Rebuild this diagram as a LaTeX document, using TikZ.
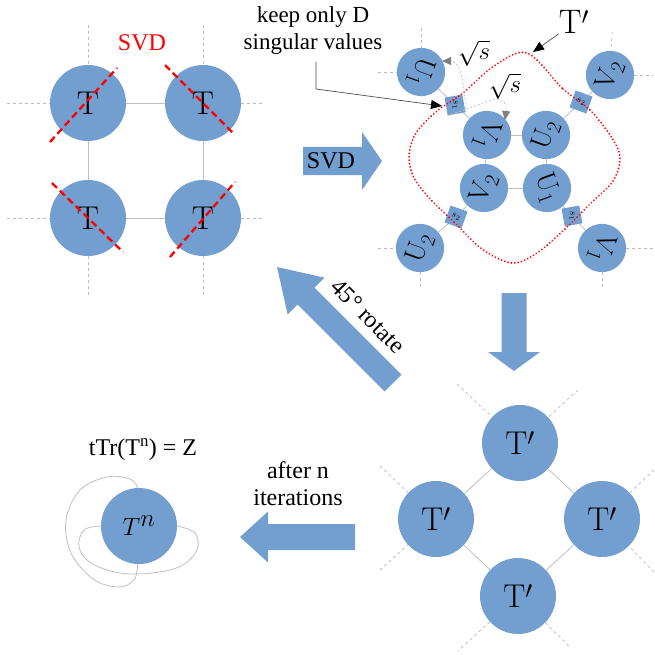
\documentclass[tikz,border=0pt]{standalone}
\usepackage{fontspec}
\newfontfamily\lser{Liberation Serif}
\usetikzlibrary{arrows.meta}
\definecolor{tblue}{HTML}{729FCF}
\newcommand\blockarr[7]{% x, y, angle, length, head length, head width, body width
  \begin{scope}[shift={(#1,#2)},rotate=#3]
    \fill[tblue] (0,-#7/2) -- (#4-#5,-#7/2) -- (#4-#5,-#6/2) -- (#4,0) -- (#4-#5,#6/2) -- (#4-#5,#7/2) -- (0,#7/2) -- cycle;
  \end{scope}}
\tikzset{
  big/.style={circle,fill=tblue,minimum size=76pt,inner sep=0pt,font=\fontsize{33}{33}\selectfont},
  small/.style={circle,fill=tblue,minimum size=39pt,inner sep=0pt,font=\fontsize{28}{28}\selectfont},
  sq/.style={rectangle,fill=tblue,minimum size=18pt,inner sep=0pt,font=\fontsize{10}{10}\selectfont},
  bond/.style={draw=gray!50,line width=0.8pt},
  leg/.style={draw=gray!55,line width=0.7pt,dash pattern=on 3pt off 3pt},
  cut/.style={draw=red,line width=2.3pt,dash pattern=on 7pt off 4pt},
  region/.style={draw=red,line width=2pt,line cap=round,dash pattern=on 0.01pt off 3.4pt},
  lbl/.style={font=\lser\fontsize{24}{27}\selectfont,align=center,inner sep=0pt},
  ptr/.style={draw=gray!60!black,line width=0.7pt,-{Triangle[length=11pt,width=9pt,color=black]}},
  sqarr/.style={draw=gray!45,line width=0.8pt,dash pattern=on 2pt off 2pt,-{Triangle[length=9pt,width=8pt,color=gray]}}
}
\begin{document}
\begin{tikzpicture}[x=1pt,y=-1pt]
\useasboundingbox (0,0) rectangle (654,655);

% ---------------- top-left: 2x2 network of T ----------------
\node[big] (t11) at (88,103) {$\mathrm{T}$};
\node[big] (t12) at (203,103) {$\mathrm{T}$};
\node[big] (t21) at (88,218) {$\mathrm{T}$};
\node[big] (t22) at (203,218) {$\mathrm{T}$};
\coordinate (l1) at (7,103);  \coordinate (r1) at (264,103);
\coordinate (l2) at (7,218);  \coordinate (r2) at (264,218);
\coordinate (u1) at (88,25);  \coordinate (u2) at (203,25);
\coordinate (d1) at (88,297); \coordinate (d2) at (203,297);
\draw[bond] (t11) -- (t12); \draw[bond] (t21) -- (t22);
\draw[bond] (t11) -- (t21); \draw[bond] (t12) -- (t22);
\draw[leg] (l1) -- (t11); \draw[leg] (t12) -- (r1);
\draw[leg] (l2) -- (t21); \draw[leg] (t22) -- (r2);
\draw[leg] (u1) -- (t11); \draw[leg] (u2) -- (t12);
\draw[leg] (t21) -- (d1); \draw[leg] (t22) -- (d2);
\coordinate (c1a) at (50,142);  \coordinate (c1b) at (117,68);
\coordinate (c2a) at (165,65);  \coordinate (c2b) at (233,133);
\coordinate (c3a) at (52,183);  \coordinate (c3b) at (123,252);
\coordinate (c4a) at (170,257); \coordinate (c4b) at (235,182);
\draw[cut] (c1a) -- (c1b);
\draw[cut] (c2a) -- (c2b);
\draw[cut] (c3a) -- (c3b);
\draw[cut] (c4a) -- (c4b);
\node[lbl,text=red] (svdred) at (142,43) {SVD};

% ---------------- SVD arrow ----------------
\blockarr{303}{161}{0}{79}{20}{58}{28}
\node[lbl] (svdtxt) at (331,161) {SVD};

% ---------------- top-right: decomposed network ----------------
\node[small] (u1a) at (421,72)  {\rotatebox{-110}{$\mathrm{U}_{1}$}};
\node[small] (v1b) at (487,135) {\rotatebox{-110}{$\mathrm{V}_{1}$}};
\node[small] (u2b) at (546,135) {\rotatebox{70}{$\mathrm{U}_{2}$}};
\node[small] (v2b) at (484,188) {\rotatebox{70}{$\mathrm{V}_{2}$}};
\node[small] (u1b) at (547,188) {\rotatebox{-70}{$\mathrm{U}_{1}$}};
\node[small] (v2a) at (610,75)  {\rotatebox{70}{$\mathrm{V}_{2}$}};
\node[small] (u2a) at (420,248) {\rotatebox{70}{$\mathrm{U}_{2}$}};
\node[small] (v1a) at (602,248) {\rotatebox{-110}{$\mathrm{V}_{1}$}};
\node[sq,rotate=-80] (sA) at (455,105) {$s_1$};
\node[sq,rotate=-20] (sB) at (581,102) {$s_2$};
\node[sq,rotate=-20] (sC) at (456,217) {$s_2$};
\node[sq,rotate=-80] (sD) at (572,216) {$s_1$};
\draw[bond] (u1a) -- (sA); \draw[bond] (sA) -- (v1b);
\draw[bond] (v1b) -- (u2b); \draw[bond] (u2b) -- (sB); \draw[bond] (sB) -- (v2a);
\draw[bond] (v1b) -- (v2b); \draw[bond] (u2b) -- (u1b); \draw[bond] (v2b) -- (u1b);
\draw[bond] (v2b) -- (sC); \draw[bond] (sC) -- (u2a);
\draw[bond] (u1b) -- (sD); \draw[bond] (sD) -- (v1a);
\coordinate (e1) at (378,72);  \coordinate (e2) at (421,28);
\coordinate (e3) at (612,32);  \coordinate (e4) at (653,75);
\coordinate (e5) at (378,248); \coordinate (e6) at (420,290);
\coordinate (e7) at (602,290); \coordinate (e8) at (653,248);
\draw[leg] (e1) -- (u1a); \draw[leg] (e2) -- (u1a);
\draw[leg] (e3) -- (v2a); \draw[leg] (v2a) -- (e4);
\draw[leg] (e5) -- (u2a); \draw[leg] (u2a) -- (e6);
\draw[leg] (v1a) -- (e7); \draw[leg] (v1a) -- (e8);
% T' region
\draw[region] plot[smooth cycle,tension=0.55] coordinates {
  (527,53) (563,89) (590,110) (612,138) (620,158) (613,181) (590,204)
  (566,228) (537,253) (512,263) (482,249) (454,222) (431,200) (414,178)
  (409,156) (416,133) (437,111) (463,93) (494,66)};
\node[font=\fontsize{34}{34}\selectfont,inner sep=0pt] (tpl) at (574,22) {$\mathrm{T}'$};
\coordinate (tptip) at (533,52);
\draw[ptr] (tpl.south west) -- (tptip);
% keep only D
\node[lbl,font=\lser\fontsize{23}{27}\selectfont] (keep) at (313,31) {keep only D\\singular values};
\coordinate (k0) at (316,62); \coordinate (k1) at (316,89); \coordinate (ktip) at (442,106);
\draw[ptr] (k0) -- (k1) -- (ktip);
% sqrt s arrows
\coordinate (qa) at (442,61); \coordinate (qb) at (505,120);
\draw[sqarr] (sA.north east) .. controls (464,72) and (458,61) .. (qa);
\draw[sqarr] (sA.south east) -- (494,99) .. controls (504,99) and (507,104) .. (qb);
\node[font=\fontsize{27}{27}\selectfont,inner sep=0pt] (sq1) at (474,53) {$\sqrt{s}$};
\node[font=\fontsize{27}{27}\selectfont,inner sep=0pt] (sq2) at (505,86) {$\sqrt{s}$};

% ---------------- down arrow ----------------
\blockarr{514}{293}{-90}{78}{19}{52}{25}

% ---------------- bottom-right: rotated network ----------------
\node[big] (pt) at (520,443) {$\mathrm{T}'$\hspace{16pt}};
\node[big] (pl) at (436,519) {$\mathrm{T}'$\hspace{16pt}};
\node[big] (pr) at (602,519) {$\mathrm{T}'$\hspace{16pt}};
\node[big] (pb) at (518,596) {$\mathrm{T}'$\hspace{16pt}};
\draw[bond] (pt) -- (pl); \draw[bond] (pt) -- (pr);
\draw[bond] (pl) -- (pb); \draw[bond] (pr) -- (pb);
\coordinate (f1) at (457,384); \coordinate (f2) at (578,390);
\coordinate (f3) at (380,466); \coordinate (f4) at (380,570);
\coordinate (f5) at (654,470); \coordinate (f6) at (654,572);
\coordinate (f7) at (458,651); \coordinate (f8) at (570,647);
\draw[leg] (f1) -- (pt); \draw[leg] (f2) -- (pt);
\draw[leg] (f3) -- (pl); \draw[leg] (f4) -- (pl);
\draw[leg] (f5) -- (pr); \draw[leg] (f6) -- (pr);
\draw[leg] (pb) -- (f7); \draw[leg] (pb) -- (f8);

% ---------------- 45 degree arrow ----------------
\blockarr{393}{383}{135}{164}{41}{52}{24}
\node[lbl,rotate=-45] (rot) at (368,316) {45° rotate};

% ---------------- left arrow ----------------
\blockarr{355}{537}{180}{115}{28}{51}{26}
\node[lbl] (iter) at (298,484) {after n\\iterations};

% ---------------- bottom-left: contracted tensor ----------------
\node[big] (tn) at (139,526) {$T^{n}$};
\draw[bond] plot[smooth,tension=0.6] coordinates {(tn.92) (130,479) (107,477) (80,490) (66,520) (71,553) (93,579) (118,587) (134,580) (tn.-92)};
\draw[bond] plot[smooth,tension=0.6] coordinates {(tn.west) (84,530) (79,547) (91,563) (120,573) (152,573) (181,566) (197,550) (195,533) (tn.east)};
\node[lbl] (ttr) at (143,450) {tTr(T\textsuperscript{n}) = Z};
\end{tikzpicture}
\end{document}
